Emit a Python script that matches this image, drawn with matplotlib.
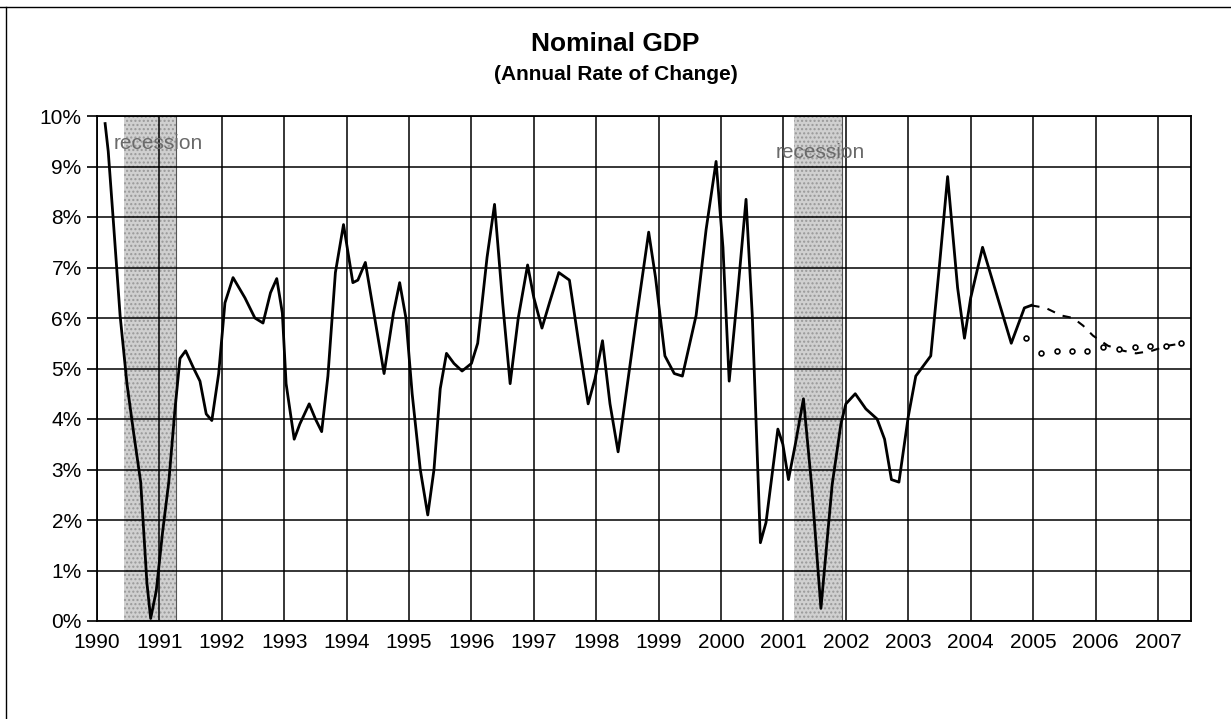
import matplotlib
matplotlib.use("Agg")
import matplotlib.pyplot as plt
from matplotlib.lines import Line2D

plt.rcParams['font.family'] = ['Liberation Sans', 'DejaVu Sans']

# nominal GDP, annual rate of change (%)
gdp_t = [1990.13, 1990.18, 1990.26, 1990.37, 1990.48, 1990.59, 1990.70, 1990.80, 1990.86, 1990.95,
         1991.05, 1991.15, 1991.25, 1991.33, 1991.42, 1991.55, 1991.65, 1991.75, 1991.84, 1991.95,
         1992.05, 1992.18, 1992.37, 1992.53, 1992.66, 1992.78, 1992.88, 1992.97, 1993.03, 1993.16,
         1993.25, 1993.40, 1993.50, 1993.60, 1993.70, 1993.82, 1993.95, 1994.10, 1994.18, 1994.30,
         1994.45, 1994.60, 1994.75, 1994.85, 1994.95, 1995.05, 1995.18, 1995.30, 1995.40, 1995.50,
         1995.60, 1995.72, 1995.85, 1996.00, 1996.10, 1996.25, 1996.37, 1996.50, 1996.62, 1996.75,
         1996.90, 1997.00, 1997.13, 1997.25, 1997.40, 1997.57, 1997.72, 1997.87, 1997.98, 1998.10,
         1998.22, 1998.35, 1998.50, 1998.65, 1998.84, 1998.95, 1999.10, 1999.25, 1999.38, 1999.60,
         1999.76, 1999.92, 2000.03, 2000.13, 2000.27, 2000.40, 2000.50, 2000.63, 2000.72, 2000.91,
         2000.99, 2001.08, 2001.19, 2001.32, 2001.45, 2001.60, 2001.78, 2001.92, 2002.00, 2002.15,
         2002.32, 2002.50, 2002.62, 2002.73, 2002.85, 2003.00, 2003.12, 2003.36, 2003.50, 2003.63,
         2003.79, 2003.90, 2004.00, 2004.19, 2004.42, 2004.65, 2004.86, 2004.97]
gdp_v = [9.85, 9.30, 7.95, 6.05, 4.70, 3.70, 2.75, 0.75, 0.05, 0.60,
         1.75, 2.75, 4.20, 5.20, 5.35, 5.00, 4.75, 4.10, 3.97, 4.90,
         6.30, 6.80, 6.40, 6.00, 5.90, 6.50, 6.78, 6.10, 4.70, 3.60,
         3.90, 4.30, 4.00, 3.75, 4.85, 6.90, 7.85, 6.70, 6.75, 7.10,
         6.00, 4.90, 6.10, 6.70, 6.00, 4.50, 3.00, 2.10, 3.00, 4.60,
         5.30, 5.10, 4.95, 5.10, 5.50, 7.20, 8.25, 6.30, 4.70, 6.00,
         7.05, 6.40, 5.80, 6.30, 6.90, 6.75, 5.50, 4.30, 4.80, 5.55,
         4.30, 3.35, 4.70, 6.05, 7.70, 6.80, 5.25, 4.90, 4.85, 6.05,
         7.75, 9.10, 7.40, 4.75, 6.55, 8.35, 6.05, 1.55, 1.95, 3.80,
         3.50, 2.80, 3.50, 4.40, 2.70, 0.25, 2.70, 3.90, 4.30, 4.50,
         4.20, 4.00, 3.60, 2.80, 2.75, 4.05, 4.85, 5.25, 7.05, 8.80,
         6.60, 5.60, 6.40, 7.40, 6.45, 5.50, 6.20, 6.25]

# forecast (dashed)
fc_t = [2004.97, 2005.20, 2005.45, 2005.64, 2005.80, 2005.96, 2006.20, 2006.45, 2006.65, 2006.90, 2007.15, 2007.40]
fc_v = [6.25, 6.20, 6.05, 6.00, 5.85, 5.65, 5.45, 5.35, 5.30, 5.35, 5.45, 5.50]

# alternative forecast (circles)
alt_t = [2004.88, 2005.13, 2005.38, 2005.63, 2005.87, 2006.12, 2006.38, 2006.63, 2006.88, 2007.13, 2007.37]
alt_v = [5.60, 5.30, 5.35, 5.35, 5.35, 5.42, 5.38, 5.42, 5.45, 5.45, 5.50]

recessions = [(1990.43, 1991.26), (2001.17, 2001.93)]
years = list(range(1990, 2008))
pcts = list(range(0, 11))

fig = plt.figure(figsize=(12.31, 7.19), dpi=100)
ax = fig.add_axes([97 / 1231, 1 - 621 / 719, (1191 - 97) / 1231, (621 - 116) / 719])

for a, b in recessions:
    ax.axvspan(a, b, facecolor='#d0d0d0', edgecolor='#999999', hatch='....', lw=0, zorder=1)
    ax.axvline(b, color='#555555', lw=0.8, zorder=1.5)

ax.plot(gdp_t, gdp_v, color='black', lw=2.0, zorder=4)
ax.plot(fc_t, fc_v, color='black', lw=1.5, ls=(0, (4, 4)), zorder=4)
ax.plot(alt_t, alt_v, ls='none', marker='o', ms=3.5, mfc='white', mec='black', mew=1.2, zorder=4)

ax.text(1990.27, 9.45, 'recession', color='#6a6a6a', fontsize=15, va='center', ha='left', zorder=5)
ax.text(2000.87, 9.27, 'recession', color='#6a6a6a', fontsize=15, va='center', ha='left', zorder=5)

ax.set_xlim(1990, 2007.53)
ax.set_ylim(0, 10)
ax.set_xticks(years)
ax.set_xticklabels([str(y) for y in years], fontsize=15)
ax.set_yticks(pcts)
ax.set_yticklabels([f'{p}%' for p in pcts], fontsize=15)
ax.tick_params(axis='x', length=0, pad=9)
ax.tick_params(axis='y', length=7, width=1.2, pad=4)
ax.grid(True, color='black', lw=1.1, zorder=2)
ax.set_axisbelow(False)
for s in ax.spines.values():
    s.set_linewidth(1.3)
    s.set_zorder(6)

fig.text(0.5, 1 - 44 / 719, 'Nominal GDP', ha='center', va='center', fontsize=19, fontweight='bold')
fig.text(0.5, 1 - 74 / 719, '(Annual Rate of Change)', ha='center', va='center', fontsize=15, fontweight='bold')

# outer frame of the chart area
fig.add_artist(Line2D([0, 1], [1 - 7 / 719, 1 - 7 / 719], color='black', lw=1.0))
fig.add_artist(Line2D([6 / 1231, 6 / 1231], [0, 1 - 7 / 719], color='black', lw=1.0))

fig.savefig('out.png', dpi=100)
